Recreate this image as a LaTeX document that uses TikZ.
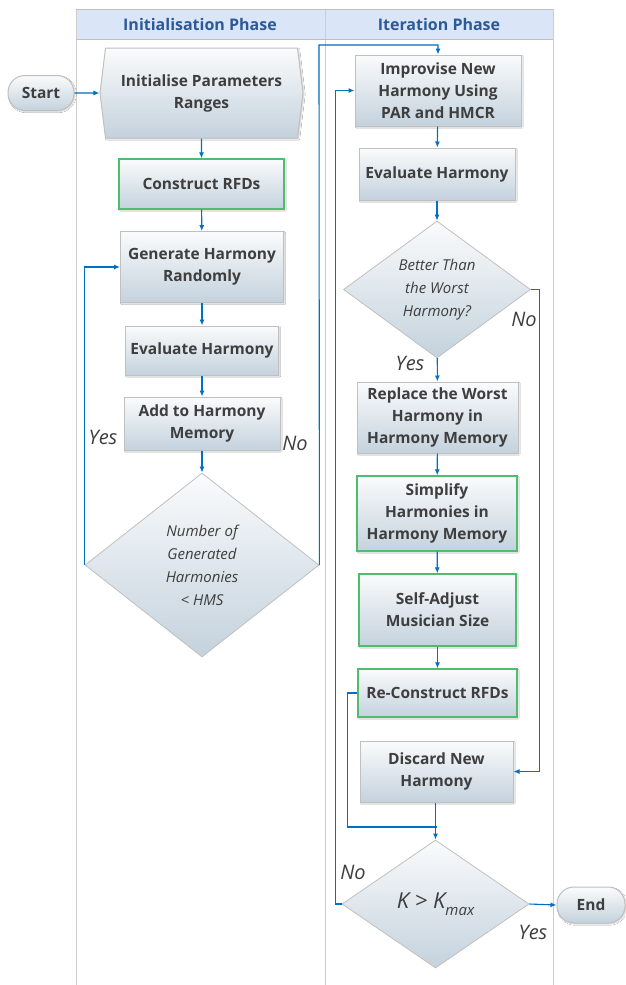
\documentclass[tikz,border=0pt]{standalone}
\usepackage{fontspec}
\setmainfont{Open Sans}
\usepackage{xcolor}
\definecolor{boxtop}{RGB}{250,251,252}
\definecolor{boxbot}{RGB}{196,210,221}
\definecolor{boxline}{RGB}{192,192,192}
\definecolor{rfdline}{RGB}{80,188,112}
\definecolor{flowblue}{RGB}{0,112,192}
\definecolor{headfill}{RGB}{219,229,248}
\definecolor{headtext}{RGB}{44,90,150}
\definecolor{laneline}{RGB}{205,205,205}
\definecolor{txtgray}{RGB}{62,62,62}
\usetikzlibrary{shapes.geometric,shapes.symbols,shadows.blur,arrows.meta}

\tikzset{
  proc/.style={draw=boxline, line width=1pt, top color=boxtop, bottom color=boxbot,
               blur shadow={shadow blur steps=4, shadow xshift=1.2pt, shadow yshift=-1.2pt,
                            shadow opacity=18, shadow blur radius=1pt},
               text=txtgray, align=center, inner sep=1pt,
               font=\fontsize{15.5}{22}\selectfont\bfseries},
  rfdproc/.style={proc, draw=rfdline, line width=1.3pt},
  decision/.style={diamond, draw=boxline, line width=0.8pt, top color=boxtop, bottom color=boxbot,
                   text=txtgray, align=center, inner sep=0pt,
                   font=\fontsize{15}{23}\selectfont\itshape},
  terminal/.style={proc, rounded corners=17pt},
  flow/.style={draw=flowblue, line width=1.1pt, -{Latex[length=6pt,width=5pt]}},
  link/.style={draw=flowblue, line width=1.1pt},
  answer/.style={text=txtgray, font=\fontsize{20}{20}\selectfont\itshape, inner sep=0pt},
  lane/.style={draw=laneline, line width=0.8pt}
}

\begin{document}
\begin{tikzpicture}[x=1pt, y=-1pt]
  \useasboundingbox (0,0) rectangle (625,985);
  \fill[white] (0,0) rectangle (625,985);

  % Couloirs et bandeau de titre
  \fill[headfill] (76,9) rectangle (553,39);
  \draw[lane] (76,9) -- (76,985);
  \draw[lane] (325,9) -- (325,985);
  \draw[lane] (553,9) -- (553,985);
  \draw[boxline, line width=1pt] (76,9) -- (553,9);
  \draw[boxline, line width=1pt] (76,39) -- (553,39);
  \node[text=headtext, font=\fontsize{16}{16}\selectfont\bfseries] (laneA) at (200,24) {Initialisation Phase};
  \node[text=headtext, font=\fontsize{16}{16}\selectfont\bfseries] (laneB) at (439,24) {Iteration Phase};

  % Phase d'initialisation
  \node[terminal, minimum width=66pt, minimum height=35pt] (start) at (41,93) {Start};
  \node[proc, signal, signal to=west and east, signal pointer angle=166,
        minimum width=203pt, minimum height=90pt] (init) at (201.5,93) {Initialise Parameters\\Ranges};
  \node[rfdproc, minimum width=165pt, minimum height=50pt] (rfd) at (201.5,184) {Construct RFDs};
  \node[proc, minimum width=163pt, minimum height=71pt] (gen) at (202,267) {Generate Harmony\\Randomly};
  \node[proc, minimum width=153pt, minimum height=49pt] (evalA) at (202,350.5) {Evaluate Harmony};
  \node[proc, minimum width=156pt, minimum height=53pt] (add) at (202,423.5) {Add to Harmony\\Memory};
  \node[decision, minimum width=234pt, minimum height=184pt] (hms) at (202,565)
    {Number of\\Generated\\Harmonies\\< HMS};

  % Phase d'itération
  \node[proc, minimum width=166pt, minimum height=71pt] (impro) at (438,90.5) {Improvise New\\Harmony Using\\PAR and HMCR};
  \node[proc, minimum width=156pt, minimum height=52pt] (evalB) at (437,174) {Evaluate Harmony};
  \node[decision, shape aspect=1.4, minimum width=187pt, minimum height=137pt] (better) at (437,289.5)
    {Better Than\\the Worst\\Harmony?};
  \node[proc, minimum width=161pt, minimum height=71pt] (replace) at (437.5,417.5) {Replace the Worst\\Harmony in\\Harmony Memory};
  \node[rfdproc, minimum width=160pt, minimum height=75pt] (simp) at (437,513.5) {Simplify\\Harmonies in\\Harmony Memory};
  \node[rfdproc, minimum width=157pt, minimum height=72pt] (self) at (437.5,610) {Self-Adjust\\Musician Size};
  \node[rfdproc, minimum width=159pt, minimum height=48pt] (recon) at (437.5,693) {Re-Construct RFDs};
  \node[proc, minimum width=153pt, minimum height=61pt] (discard) at (436.5,771.5) {Discard New\\Harmony};
  \node[decision, shape aspect=1.5, minimum width=187pt, minimum height=128pt,
        font=\fontsize{22}{22}\selectfont\itshape] (kmax) at (435.5,904)
    {K > K\raisebox{-7pt}{\fontsize{15}{15}\selectfont max}};
  \node[terminal, minimum width=68pt, minimum height=36pt] (end) at (591,905) {End};

  % Connecteurs
  \draw[flow] (start) -- (init);
  \draw[flow] (init) -- (rfd);
  \draw[flow] (rfd) -- (gen);
  \draw[flow] (gen) -- (evalA);
  \draw[flow] (evalA) -- (add);
  \draw[flow] (add) -- (hms);
  \draw[flow] (hms.west) |- (gen.west);
  \coordinate (topturn) at (319,45);
  \draw[flow] (hms.east) -- (topturn) -| (impro.north);

  \draw[flow] (impro) -- (evalB);
  \draw[flow] (evalB) -- (better);
  \draw[flow] (better) -- (replace);
  \draw[flow] (better.east) -- ++(9,0) |- (discard.east);
  \draw[flow] (replace) -- (simp);
  \draw[flow] (simp) -- (self);
  \draw[flow] (self) -- (recon);
  \coordinate (join) at (437,827);
  \draw[link] (recon.west) -- ++(-10,0) |- (join);
  \draw[flow] (discard.south -| kmax.north) -- (kmax.north);
  \draw[flow] (kmax.west) -- ++(-6,0) |- (impro.west);
  \draw[flow] (kmax.east) -- (end.west);

  % Etiquettes Oui / Non
  \node[answer] (yesA) at (103,437) {Yes};
  \node[answer] (noA) at (295,443) {No};
  \node[answer] (yesB) at (410,363) {Yes};
  \node[answer] (noB) at (524,319) {No};
  \node[answer] (noC) at (353,872) {No};
  \node[answer] (yesC) at (533,932) {Yes};
\end{tikzpicture}
\end{document}
